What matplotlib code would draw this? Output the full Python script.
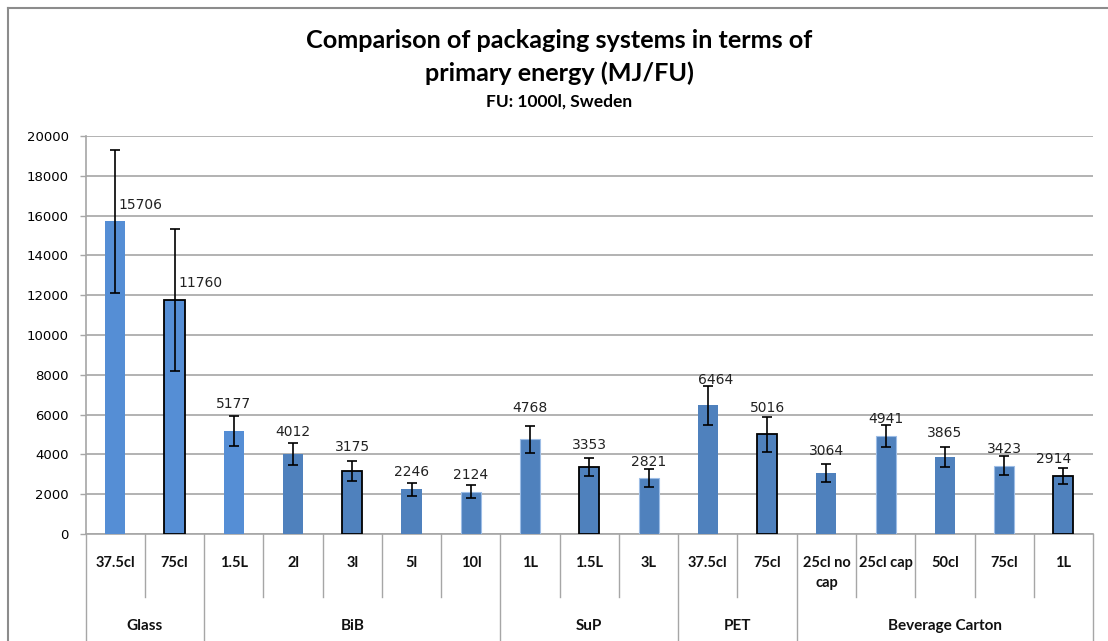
import matplotlib.pyplot as plt
from matplotlib.lines import Line2D
import numpy as np

# data
groups = ["Glass", "BiB", "SuP", "PET", "Beverage Carton"]
group_sizes = [2, 5, 3, 2, 5]
labels = ["37.5cl", "75cl",
          "1.5L", "2l", "3l", "5l", "10l",
          "1L", "1.5L", "3L",
          "37.5cl", "75cl",
          "25cl no\ncap", "25cl cap", "50cl", "75cl", "1L"]
energy = [15706, 11760, 5177, 4012, 3175, 2246, 2124, 4768, 3353, 2821,
          6464, 5016, 3064, 4941, 3865, 3423, 2914]
errors = [3600, 3570, 730, 560, 490, 330, 325, 680, 460, 460,
          980, 880, 440, 560, 520, 480, 420]

# styling per bar (Excel look: some bars lighter, some with black outline)
light, dark = "#558ED5", "#4F81BD"
faces = [light, light, light] + [dark] * 14
outlined = [1, 4, 8, 11, 16]
faint = [6, 7, 9, 13, 15]
# value-label offsets in pixels (dx, dy above bar top)
lab_dx = [25, 26, 0, 0, 0, 0, 0, 0, 0, 0, 8, 0, 0, 0, 0, 0, -10]
lab_dy = [16, 17, 27, 22, 24, 17, 17, 31, 22, 16, 25, 26, 22, 17, 24, 17, 17]

grid_c = "#A6A6A6"

fig = plt.figure(figsize=(11.08, 6.41), dpi=100)
ax = fig.add_axes([0.0773, 0.1669, 0.9092, 0.6209])

x = np.arange(len(energy))
edges = []
lws = []
for i in range(len(energy)):
    if i in outlined:
        edges.append("black"); lws.append(1.3)
    elif i in faint:
        edges.append("#9DBDE6"); lws.append(0.8)
    else:
        edges.append("none"); lws.append(0.0)

ax.bar(x, energy, width=0.34, color=faces, edgecolor=edges, linewidth=lws, zorder=3)
ax.errorbar(x, energy, yerr=errors, fmt="none", ecolor="black", elinewidth=1.2,
            capsize=3.8, capthick=1.2, zorder=4)

for i, v in enumerate(energy):
    ax.annotate(str(v), (x[i], v), xytext=(lab_dx[i], lab_dy[i]),
                textcoords="offset pixels", ha="center", va="center",
                fontsize=10, color="#222222", zorder=5)

ax.set_xlim(-0.5, len(energy) - 0.5)
ax.set_ylim(0, 20000)
ax.set_yticks(np.arange(0, 20001, 2000))
ax.yaxis.grid(True, color=grid_c, linewidth=1.2, zorder=0)
ax.tick_params(axis="y", labelsize=9.5, length=4, color=grid_c, width=1.0, pad=8)
ax.tick_params(axis="x", length=0, labelbottom=False)
for s in ["top", "right"]:
    ax.spines[s].set_visible(False)
ax.spines["left"].set_color(grid_c)
ax.spines["bottom"].set_color(grid_c)
ax.spines["left"].set_linewidth(1.2)
ax.spines["bottom"].set_linewidth(1.2)

# category table under the axis
trans = ax.get_xaxis_transform()
row1, row2 = -0.158, -0.30
bounds = np.cumsum([0] + group_sizes) - 0.5
for b in range(len(energy) + 1):
    xb = b - 0.5
    ybot = row2 if xb in bounds else row1
    ax.add_line(Line2D([xb, xb], [0, ybot], transform=trans, color=grid_c,
                       linewidth=1.0, clip_on=False))
for i, lab in enumerate(labels):
    va_y = -0.073 if "\n" not in lab else -0.098
    ax.text(x[i], va_y, lab, transform=trans, ha="center", va="center",
            fontsize=10.5, fontweight="bold", family="Lato", linespacing=1.5,
            color="#111111")
for g, name in enumerate(groups):
    mid = (bounds[g] + bounds[g + 1]) / 2
    ax.text(mid, -0.231, name, transform=trans, ha="center", va="center",
            fontsize=11, fontweight="bold", family="Lato", color="#111111")

# titles
fig.text(0.505, 0.937, "Comparison of packaging systems in terms of", ha="center",
         va="center", fontsize=18.2, fontweight="bold", family="Lato")
fig.text(0.505, 0.886, "primary energy (MJ/FU)", ha="center", va="center",
         fontsize=18.2, fontweight="bold", family="Lato")
fig.text(0.505, 0.841, "FU: 1000l, Sweden", ha="center", va="center",
         fontsize=12.5, fontweight="bold", family="Lato")

# chart frame (only top and left visible in the crop)
fig.add_artist(Line2D([0.0072, 1.0], [0.9875, 0.9875], transform=fig.transFigure,
                      color="#8C8C8C", linewidth=1.5))
fig.add_artist(Line2D([0.0072, 0.0072], [0.0, 0.9875], transform=fig.transFigure,
                      color="#8C8C8C", linewidth=1.5))

fig.savefig("out.png", dpi=100)
